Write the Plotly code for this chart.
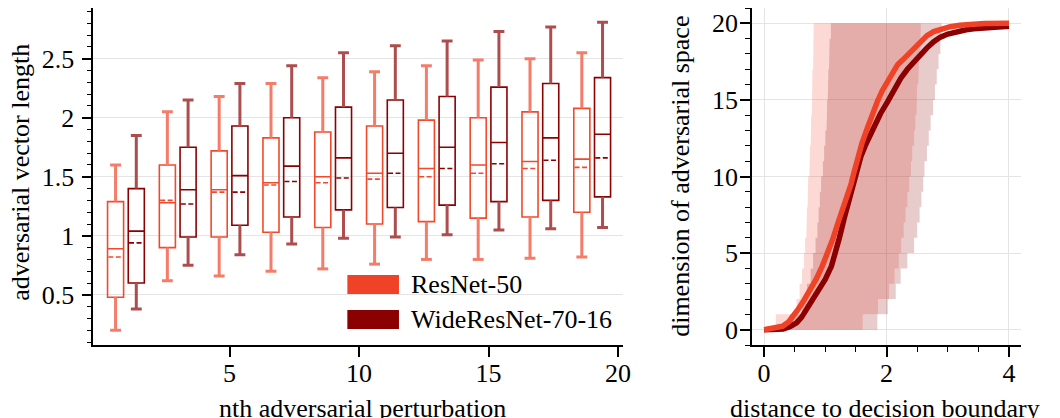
import plotly.graph_objects as go

# ---------------- left panel: adversarial vector length per perturbation ----------------
perturbation_idx = [1, 3, 5, 7, 9, 11, 13, 15, 17, 19]

resnet_whislo = [0.20, 0.62, 0.66, 0.70, 0.72, 0.76, 0.80, 0.80, 0.81, 0.82]
resnet_q1     = [0.48, 0.90, 0.99, 1.03, 1.07, 1.10, 1.12, 1.15, 1.16, 1.20]
resnet_median = [0.89, 1.28, 1.39, 1.45, 1.50, 1.53, 1.57, 1.60, 1.63, 1.65]
resnet_mean   = [0.82, 1.30, 1.37, 1.43, 1.45, 1.48, 1.50, 1.53, 1.57, 1.58]
resnet_q3     = [1.29, 1.60, 1.72, 1.83, 1.88, 1.93, 1.98, 2.00, 2.05, 2.08]
resnet_whishi = [1.60, 2.05, 2.18, 2.29, 2.34, 2.39, 2.44, 2.49, 2.50, 2.55]

wide_whislo = [0.38, 0.75, 0.84, 0.93, 0.98, 0.99, 1.01, 1.05, 1.06, 1.07]
wide_q1     = [0.60, 0.99, 1.09, 1.16, 1.22, 1.24, 1.26, 1.29, 1.30, 1.33]
wide_median = [1.04, 1.39, 1.51, 1.59, 1.66, 1.70, 1.75, 1.79, 1.83, 1.86]
wide_mean   = [0.94, 1.27, 1.37, 1.46, 1.49, 1.53, 1.57, 1.61, 1.64, 1.66]
wide_q3     = [1.40, 1.75, 1.93, 2.00, 2.09, 2.15, 2.18, 2.26, 2.29, 2.34]
wide_whishi = [1.85, 2.15, 2.29, 2.44, 2.55, 2.61, 2.65, 2.73, 2.77, 2.81]

left_yticks = [0.5, 1, 1.5, 2, 2.5]
left_yticktext = ["0.5", "1", "1.5", "2", "2.5"]
left_xticks = [5, 10, 15, 20]

# ---------------- right panel: dimension of adversarial space vs distance ----------------
# per-dimension spread (rows d .. d+1, d = 0..19)
resnet_band_lo = [0.19, 0.53, 0.58, 0.62, 0.65, 0.67, 0.69, 0.70, 0.71, 0.72,
                  0.74, 0.75, 0.76, 0.77, 0.78, 0.78, 0.79, 0.80, 0.80, 0.81]
resnet_band_hi = [1.61, 1.86, 2.04, 2.13, 2.20, 2.24, 2.28, 2.31, 2.34, 2.37,
                  2.40, 2.42, 2.45, 2.47, 2.49, 2.50, 2.52, 2.53, 2.55, 2.56]
wide_band_lo = [0.42, 0.62, 0.70, 0.76, 0.80, 0.84, 0.87, 0.89, 0.91, 0.93,
                0.96, 0.98, 1.00, 1.02, 1.03, 1.04, 1.05, 1.06, 1.07, 1.09]
wide_band_hi = [1.85, 2.02, 2.15, 2.23, 2.34, 2.45, 2.50, 2.54, 2.57, 2.60,
                2.62, 2.66, 2.69, 2.72, 2.76, 2.79, 2.82, 2.85, 2.88, 2.90]

resnet_dist = [0.0, 0.15, 0.30, 0.40, 0.48, 0.56, 0.64, 0.75, 0.85, 0.95, 1.04, 1.12,
               1.20, 1.28, 1.36, 1.42, 1.47, 1.53, 1.60, 1.69, 1.77, 1.85, 1.93, 2.02,
               2.10, 2.18, 2.26, 2.34, 2.45, 2.56, 2.66, 2.77, 2.90, 3.04, 3.20, 3.37,
               3.60, 4.0]
resnet_dim = [0.0, 0.08, 0.22, 0.50, 0.90, 1.35, 1.85, 2.55, 3.30, 4.15, 5.0, 5.9,
              6.9, 7.8, 8.6, 9.5, 10.3, 11.2, 12.2, 13.2, 14.1, 14.9, 15.6, 16.2,
              16.8, 17.3, 17.6, 17.9, 18.35, 18.8, 19.2, 19.46, 19.65, 19.78, 19.88, 19.95,
              19.98, 20.0]

wide_dist = [0.0, 0.20, 0.31, 0.42, 0.53, 0.61, 0.69, 0.80, 0.91, 1.00, 1.10, 1.17,
             1.23, 1.31, 1.39, 1.476, 1.53, 1.58, 1.65, 1.72, 1.80, 1.90, 2.02, 2.12,
             2.23, 2.34, 2.45, 2.55, 2.66, 2.77, 2.88, 3.00, 3.15, 3.30, 3.42, 3.60,
             3.80, 4.0]
wide_dim = [0.0, 0.02, 0.05, 0.20, 0.45, 0.80, 1.30, 1.95, 2.60, 3.30, 4.15, 5.0,
            6.0, 7.3, 8.5, 9.67, 10.5, 11.3, 12.0, 12.6, 13.3, 14.1, 14.9, 15.7,
            16.4, 17.0, 17.5, 17.95, 18.4, 18.8, 19.1, 19.3, 19.46, 19.58, 19.65, 19.72,
            19.76, 19.8]

right_xticks = [0, 2, 4]
right_yticks = [0, 5, 10, 15, 20]

# ---------------- styling ----------------
RESNET = "#F04226"
WIDE = "#8B0000"
RESNET_BOX = "#F2492C"
RESNET_WHISK = "#F57C69"
WIDE_WHISK = "#AE4D4D"
FONT = "Liberation Serif"
FS = 26

W, H = 1060, 418
def px(x):
    return x / W
def py(y):
    return 1 - y / H

fig = go.Figure()


def whisker_path(xs, lo, q1, q3, hi, cap=0.21):
    wx, wy = [], []
    for x, a, b, c, d in zip(xs, lo, q1, q3, hi):
        wx += [x, x, None, x, x, None, x - cap, x + cap, None, x - cap, x + cap, None]
        wy += [a, b, None, c, d, None, a, a, None, d, d, None]
    return wx, wy


def mean_path(xs, means, half):
    mx, my = [], []
    for x, m in zip(xs, means):
        mx += [x - half, x + half, None]
        my += [m, m, None]
    return mx, my


offset = 0.4
box_w = 0.62
series = [
    ("ResNet-50", -offset, resnet_whislo, resnet_q1, resnet_median, resnet_mean,
     resnet_q3, resnet_whishi, RESNET_BOX, RESNET_WHISK),
    ("WideResNet-70-16", offset, wide_whislo, wide_q1, wide_median, wide_mean,
     wide_q3, wide_whishi, WIDE, WIDE_WHISK),
]
for name, off, lo, q1, med, mean, q3, hi, col, wcol in series:
    xs = [n + off for n in perturbation_idx]
    wx, wy = whisker_path(xs, lo, q1, q3, hi)
    fig.add_trace(go.Scatter(x=wx, y=wy, mode="lines",
                             line=dict(color=wcol, width=3),
                             showlegend=False, hoverinfo="skip",
                             xaxis="x", yaxis="y"))
    fig.add_trace(go.Box(x=xs, q1=q1, median=med, q3=q3,
                         lowerfence=q1, upperfence=q3, boxmean=False,
                         width=box_w, whiskerwidth=0, boxpoints=False,
                         line=dict(color=col, width=1.6),
                         fillcolor="rgba(0,0,0,0)", name=name,
                         showlegend=False, xaxis="x", yaxis="y"))
    mx, my = mean_path(xs, mean, box_w / 2 - 0.03)
    fig.add_trace(go.Scatter(x=mx, y=my, mode="lines",
                             line=dict(color=col, width=1.6, dash="5px,2.5px"),
                             showlegend=False, hoverinfo="skip",
                             xaxis="x", yaxis="y"))


def band_polygon(lo, hi):
    xs, ys = [], []
    for d, v in enumerate(lo):
        xs += [v, v]
        ys += [d, d + 1]
    for d in range(len(hi) - 1, -1, -1):
        xs += [hi[d], hi[d]]
        ys += [d + 1, d]
    xs.append(xs[0])
    ys.append(ys[0])
    return xs, ys


for lo, hi, fill in [(resnet_band_lo, resnet_band_hi, "rgba(240,66,38,0.2)"),
                     (wide_band_lo, wide_band_hi, "rgba(139,0,0,0.2)")]:
    bx, by = band_polygon(lo, hi)
    fig.add_trace(go.Scatter(x=bx, y=by, mode="lines", fill="toself",
                             fillcolor=fill, line=dict(width=0),
                             showlegend=False, hoverinfo="skip",
                             xaxis="x2", yaxis="y2"))

fig.add_trace(go.Scatter(x=wide_dist, y=wide_dim, mode="lines",
                         line=dict(color=WIDE, width=5.5),
                         showlegend=False, xaxis="x2", yaxis="y2"))
fig.add_trace(go.Scatter(x=resnet_dist, y=resnet_dim, mode="lines",
                         line=dict(color=RESNET, width=5.5),
                         showlegend=False, xaxis="x2", yaxis="y2"))

axis_common = dict(showline=True, linecolor="black", linewidth=1.5,
                   ticks="outside", ticklen=10, tickwidth=1.5, tickcolor="black",
                   zeroline=False, tickfont=dict(family=FONT, size=FS, color="black"))
grid = dict(gridcolor="#e4e4e4", gridwidth=1.4)
minor_common = dict(ticks="outside", ticklen=5, tickwidth=1.2, tickcolor="black",
                    showgrid=False)

ydom = [py(345), py(8)]
fig.update_layout(
    width=W, height=H,
    margin=dict(l=0, r=0, t=0, b=0),
    paper_bgcolor="white", plot_bgcolor="white",
    boxmode="overlay",
    font=dict(family=FONT, size=FS, color="black"),
    xaxis=dict(domain=[px(94), px(628)], range=[-0.26, 20.2],
               tickvals=left_xticks, showgrid=False, anchor="y",
               ticklabelstandoff=-6, **axis_common),
    yaxis=dict(domain=ydom, range=[0.075, 2.93], tickvals=left_yticks,
               ticktext=left_yticktext, showgrid=True, anchor="x",
               ticklabelstandoff=2,
               minor=dict(dtick=0.1, tick0=0, **minor_common),
               **grid, **axis_common),
    xaxis2=dict(domain=[px(757.6), px(1029)], range=[-0.2, 4.2],
                tickvals=right_xticks, showgrid=True, anchor="y2",
                ticklabelstandoff=-6,
                minor=dict(dtick=0.5, tick0=0, **minor_common),
                **grid, **axis_common),
    yaxis2=dict(domain=ydom, range=[-1, 21], tickvals=right_yticks,
                showgrid=True, anchor="x2", ticklabelstandoff=-3,
                minor=dict(dtick=1, tick0=0, **minor_common),
                **grid, **axis_common),
)

# axis titles
title_font = dict(family=FONT, size=FS, color="black")
fig.add_annotation(text="adversarial vector length", x=px(21), y=py(172),
                   xref="paper", yref="paper", textangle=-90, showarrow=False,
                   xanchor="center", yanchor="middle", font=title_font)
fig.add_annotation(text="nth adversarial perturbation", x=px(365), y=py(408),
                   xref="paper", yref="paper", showarrow=False,
                   xanchor="center", yanchor="middle", font=title_font)
fig.add_annotation(text="dimension of adversarial space", x=px(685), y=py(176),
                   xref="paper", yref="paper", textangle=-90, showarrow=False,
                   xanchor="center", yanchor="middle", font=title_font)
fig.add_annotation(text="distance to decision boundary", x=px(892), y=py(408),
                   xref="paper", yref="paper", showarrow=False,
                   xanchor="center", yanchor="middle", font=title_font)

# legend patches
legend_items = [("ResNet-50", RESNET, 275, 294), ("WideResNet-70-16", WIDE, 310, 329)]
for label, col, top, bottom in legend_items:
    fig.add_shape(type="rect", xref="paper", yref="paper",
                  x0=px(350), x1=px(402), y0=py(bottom), y1=py(top),
                  fillcolor=col, line=dict(width=0))
    fig.add_annotation(text=label, x=px(412), y=py((top + bottom) / 2),
                       xref="paper", yref="paper", showarrow=False,
                       xanchor="left", yanchor="middle", font=title_font)

fig.write_html("out.html")
